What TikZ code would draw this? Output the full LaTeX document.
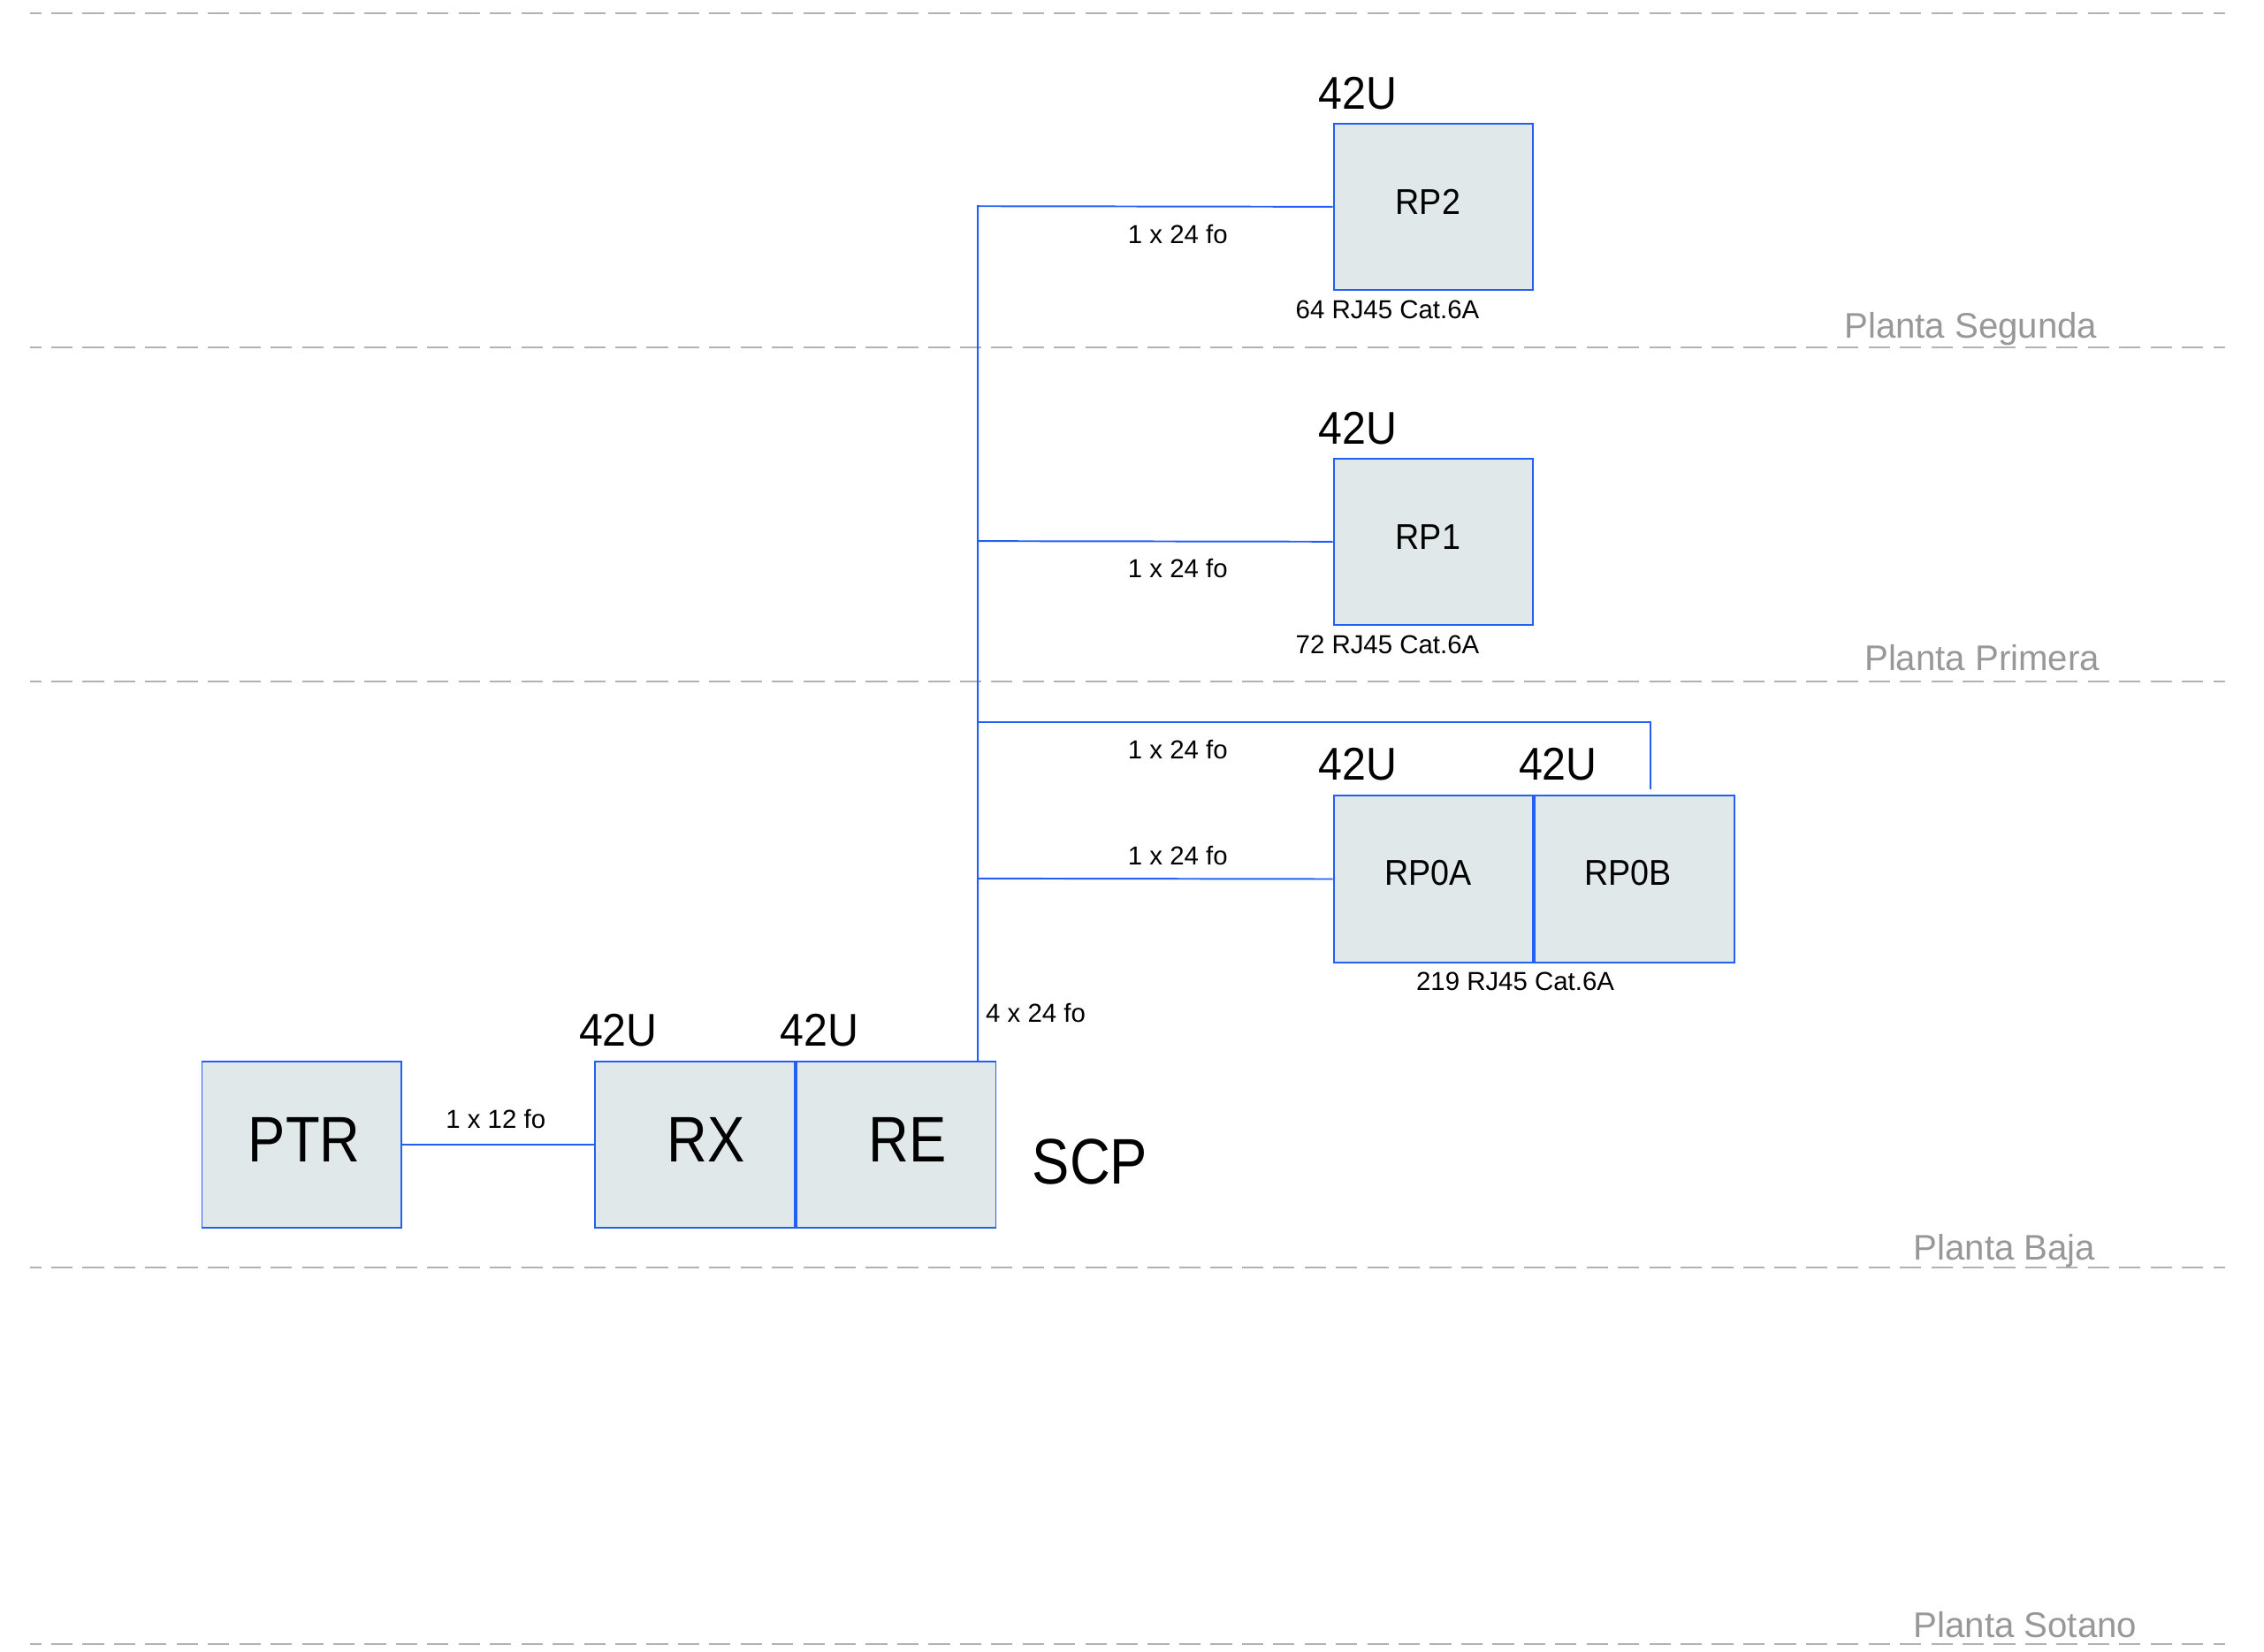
\documentclass[tikz,border=0pt]{standalone}
\usepackage{fontspec}
\setmainfont{Liberation Sans}
\newfontfamily\medfont[FakeStretch=0.93]{Liberation Sans}
\newfontfamily\bigfont[FakeStretch=0.87]{Liberation Sans}
\definecolor{wireblue}{RGB}{35,95,245}
\definecolor{rackfill}{RGB}{224,232,233}
\definecolor{floorgray}{RGB}{178,178,178}
\definecolor{floortext}{RGB}{152,152,152}
\tikzset{
  floorline/.style={draw=floorgray, line width=0.6pt, dash pattern=on 7.4pt off 3.45pt, dash phase=3.65pt},
  floorlabel/.style={inner sep=0pt, anchor=base west, text=floortext, font=\fontsize{12.3}{14}\selectfont},
  rack/.style={draw=wireblue, fill=rackfill, line width=0.6pt, minimum width=69.1pt, minimum height=57.6pt, inner sep=0pt, anchor=north west},
  racktext/.style={inner sep=0pt, anchor=base, font=\medfont\fontsize{12.4}{14}\selectfont},
  bigtext/.style={inner sep=0pt, anchor=base, font=\bigfont\fontsize{22.3}{26}\selectfont},
  utext/.style={inner sep=0pt, anchor=base west, font=\medfont\fontsize{15.9}{18}\selectfont},
  fibre/.style={inner sep=0pt, anchor=base west, font=\fontsize{9}{10}\selectfont},
  wire/.style={draw=wireblue, line width=0.6pt}
}
\begin{document}
\begin{tikzpicture}[x=0.5pt,y=-0.5pt]
\useasboundingbox (0,0) rectangle (1568,1144);

% floor separators
\foreach \yy in {9.2,240.5,472,877.7,1139}
  \draw[floorline] (21.1,\yy) -- (1541,\yy);
\node[floorlabel] (fl2) at (1277,234.3) {Planta Segunda};
\node[floorlabel] (fl1) at (1291,464.3) {Planta Primera};
\node[floorlabel] (fl0) at (1325,872.6) {Planta Baja};
\node[floorlabel] (flS) at (1325,1134) {Planta Sotano};

% junction coordinates on the riser
\coordinate (jt) at (677.2,142.8);
\coordinate (j1) at (677.2,374.8);
\coordinate (j0b) at (677.2,500.5);
\coordinate (j0a) at (677.2,608.5);
\coordinate (jb) at (677.2,734.8);
\coordinate (rp0bdrop) at (1142.9,547);

% racks
\node[rack] (RP2) at (923,85) {};
\node[rack] (RP1) at (923,317) {};
\node[rack] (RP0A) at (923,550.7) {};
\node[rack] (RP0B) at (RP0A.north east) {};
\node[rack] (PTR) at (139.3,734.8) {};
\node[rack] (RX) at (411.5,734.8) {};
\node[rack] (RE) at (RX.north east) {};

% connectors
\draw[wire] (jb) -- (jt) -- (RP2.west);
\draw[wire] (j1) -- (RP1.west);
\draw[wire] (j0b) -| (rp0bdrop);
\draw[wire] (j0a) -- (RP0A.west);
\draw[wire] (PTR.east) -- (RX.west);

% rack names
\node[racktext] (tRP2) at (989,148.6) {RP2};
\node[racktext] (tRP1) at (989,380.6) {RP1};
\node[racktext] (tRP0A) at (989.3,613.4) {RP0A};
\node[racktext] (tRP0B) at (1127.6,613.4) {RP0B};
\node[bigtext] (tPTR) at (210.7,804.9) {PTR};
\node[bigtext] (tRX) at (489,804.9) {RX};
\node[bigtext] (tRE) at (628.4,804.9) {RE};
\node[bigtext, anchor=base west] (tSCP) at (714.6,820.2) {SCP};

% rack heights
\node[utext] (uRP2) at (912.8,75.9) {42U};
\node[utext] (uRP1) at (912.8,307.9) {42U};
\node[utext] (uRP0A) at (912.7,540.5) {42U};
\node[utext] (uRP0B) at (1051.5,540.5) {42U};
\node[utext] (uRX) at (400.7,724.6) {42U};
\node[utext] (uRE) at (539.9,724.6) {42U};

% cable labels
\node[fibre] (fRP2) at (780.8,168.4) {1 x 24 fo};
\node[fibre] (fRP1) at (780.8,400.4) {1 x 24 fo};
\node[fibre] (fRP0B) at (780.8,525.6) {1 x 24 fo};
\node[fibre] (fRP0A) at (780.8,599) {1 x 24 fo};
\node[fibre] (fRiser) at (682.4,707.9) {4 x 24 fo};
\node[fibre] (fPTR) at (308.4,781.8) {1 x 12 fo};

% outlet counts
\node[fibre] (nRP2) at (897,220.5) {64 RJ45 Cat.6A};
\node[fibre] (nRP1) at (897,452.5) {72 RJ45 Cat.6A};
\node[fibre] (nRP0) at (980.5,685.9) {219 RJ45 Cat.6A};
\end{tikzpicture}
\end{document}
